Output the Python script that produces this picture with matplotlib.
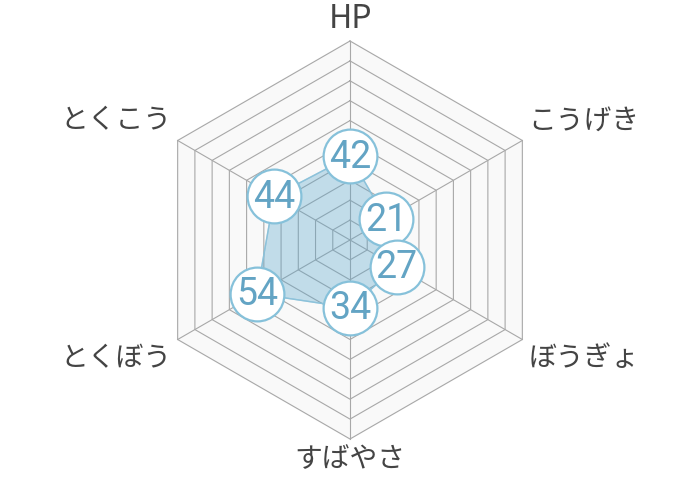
import numpy as np
import matplotlib.pyplot as plt

plt.rcParams['font.family'] = ['Noto Sans CJK JP', 'DejaVu Sans']

# stats
labels = ['HP', 'こうげき', 'ぼうぎょ', 'すばやさ', 'とくぼう', 'とくこう']
values = [42, 21, 27, 34, 54, 44]
max_value = 100
levels = np.arange(10, 101, 10)

# layout in pixel units
cx, cy = 350, 240
R = 199
n = len(labels)
angles = np.arange(n) * 2 * np.pi / n  # clockwise from top


def to_xy(r, ang):
    return cx + r * np.sin(ang), cy - r * np.cos(ang)


fig = plt.figure(figsize=(7, 4.8), dpi=100)
ax = fig.add_axes([0, 0, 1, 1])
ax.set_xlim(0, 700)
ax.set_ylim(480, 0)
ax.set_aspect('equal')
ax.axis('off')

# background hexagon
ang_c = np.append(angles, angles[0])
bx, by = to_xy(R, ang_c)
ax.fill(bx, by, color='#f9f9f9', zorder=1)

# grid rings
for lv in levels:
    gx, gy = to_xy(R * lv / max_value, ang_c)
    ax.plot(gx, gy, color='#a8a8a8', lw=0.8, zorder=2)

# spokes
for a in angles:
    sx, sy = to_xy(np.array([0, R]), a)
    ax.plot(sx, sy, color='#a8a8a8', lw=0.8, zorder=2)

# data polygon
vals = np.array(values + values[:1], dtype=float)
px, py = to_xy(R * vals / max_value, ang_c)
ax.fill(px, py, color='#5aa6cc', alpha=0.35, zorder=3)
ax.plot(px, py, color='#8cc2da', lw=1, zorder=3)

# value bubbles
dx, dy = to_xy(R * np.array(values) / max_value, angles)
ax.scatter(dx, dy, s=1500, facecolor='white', edgecolor='#86c1da',
           linewidth=1.6, zorder=4)
for x, y, v in zip(dx, dy, values):
    ax.text(x, y + 1, str(v), fontsize=27, color='#63a4c4',
            family=['Roboto', 'DejaVu Sans'],
            ha='center', va='center', zorder=5)

# axis labels
offsets = [
    (0, -6, 'center', 'bottom'),
    (6, -5, 'left', 'bottom'),
    (6, 4, 'left', 'top'),
    (0, 5, 'center', 'top'),
    (-6, 4, 'right', 'top'),
    (-6, -5, 'right', 'bottom'),
]
for lab, a, (ox, oy, ha, va) in zip(labels, angles, offsets):
    lx, ly = to_xy(R, a)
    size = 23 if lab == 'HP' else 20
    ax.text(lx + ox, ly + oy, lab, fontsize=size, color='#444444',
            ha=ha, va=va)

fig.savefig('out.png', dpi=100)
